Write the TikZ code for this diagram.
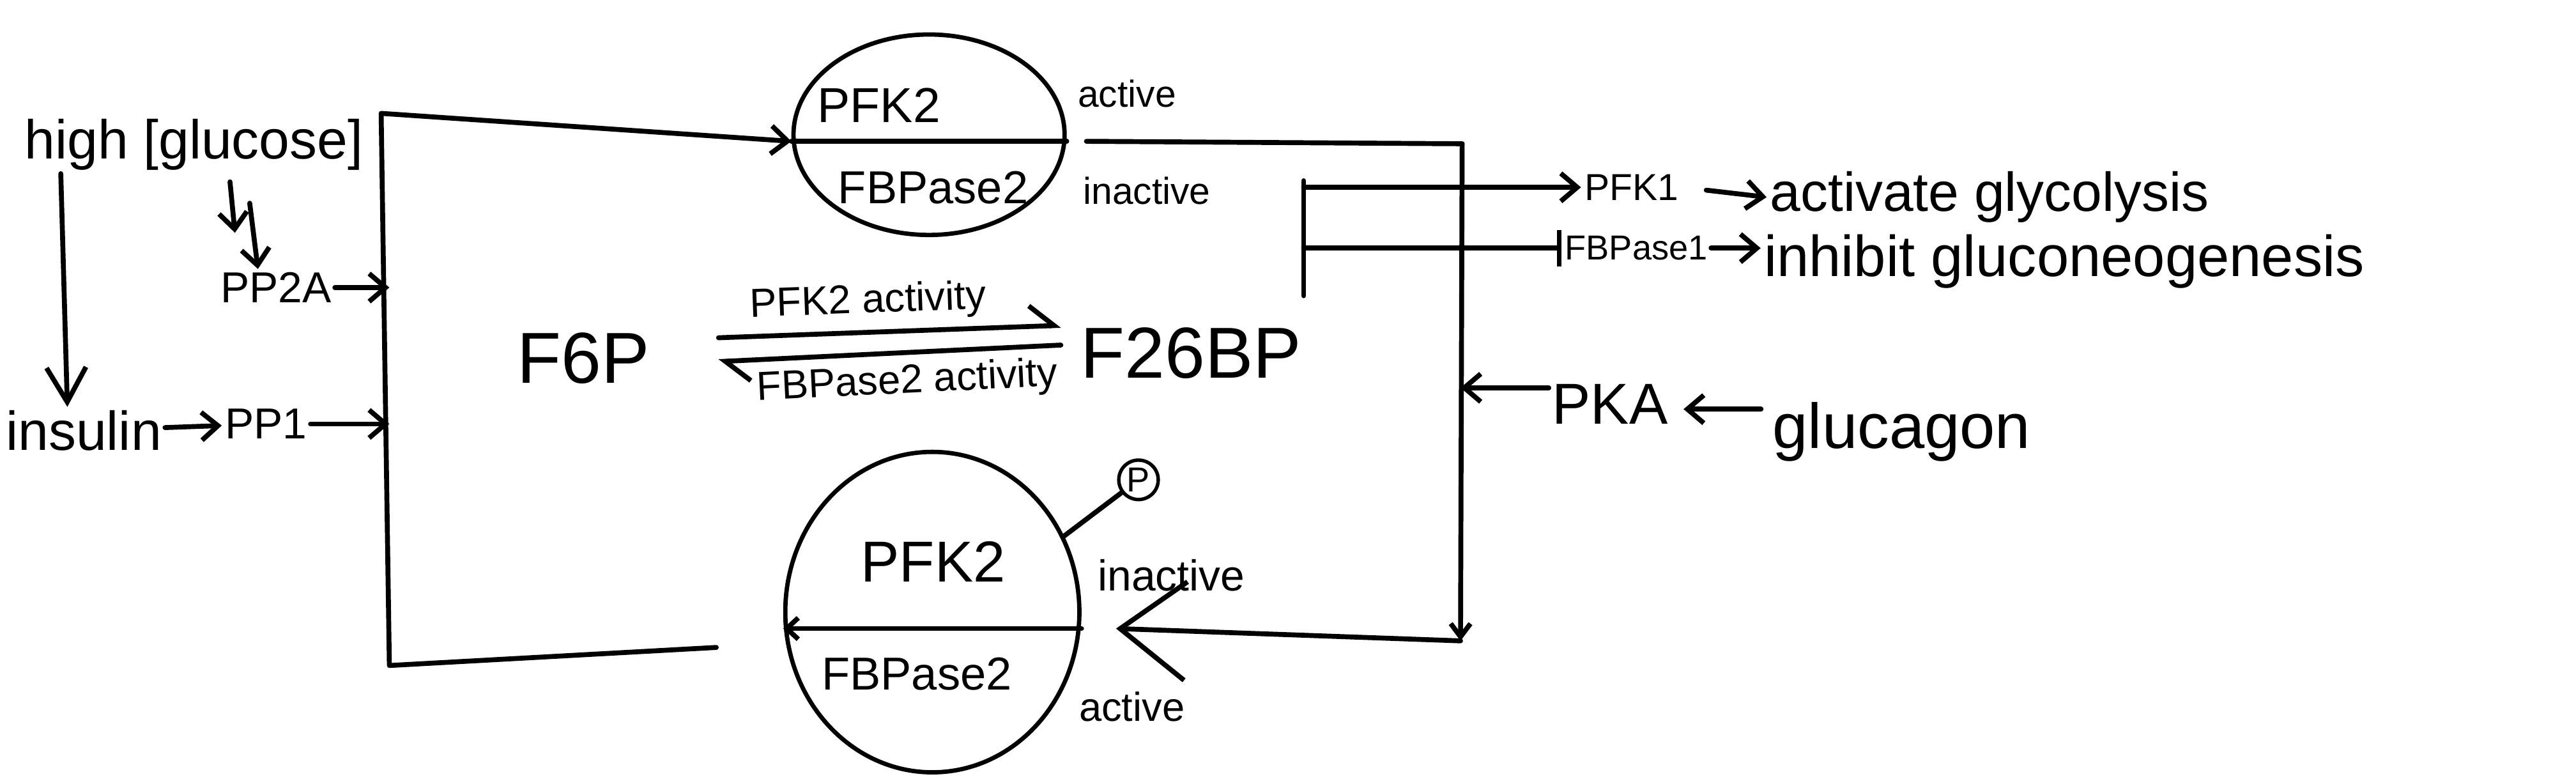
\documentclass[tikz,border=0pt]{standalone}
\usepackage{fontspec}
\setmainfont{Liberation Sans}
\usetikzlibrary{arrows.meta,shapes.geometric}
\def\fsz#1{\fontsize{#1}{#1}\selectfont}
\tikzset{
	hand/.style={line width=1.7pt, line cap=round, line join=round},
	harr/.style={hand, -{Straight Barb[length=0.2cm,width=0.34cm]}},
	enz/.style={draw, ellipse, line width=1.5pt, inner sep=0pt},
	lbl/.style={inner sep=1pt},
}

\begin{document}
\begin{tikzpicture}
			%%%%% START %%%%%
			\useasboundingbox (0, 0) rectangle (31.36, 9.48);
			
			\coordinate (boxtl) at (4.64, 8.1);
			\coordinate (boxbl) at (4.74, 1.38);
			\coordinate (boxtr) at (17.8, 7.73);
			\coordinate (boxbr) at (17.78, 1.68);
			\coordinate (botgap) at (8.72, 1.6);
			
			\node[lbl] (glucose) at (2.36, 7.72) {\fsz{19}high [glucose]};
			\node[lbl] (pptwoa) at (3.36, 5.98) {\fsz{15}PP2A};
			\node[lbl] (insulin) at (1.02, 4.24) {\fsz{19}insulin};
			\node[lbl] (ppone) at (3.24, 4.32) {\fsz{15}PP1};
			
			\draw[hand, -{Straight Barb[length=0.42cm,width=0.48cm]}] ([xshift=-1.62cm]glucose.south) -- ([xshift=-0.2cm]insulin.north);
			\draw[harr] ([xshift=0.44cm,yshift=-0.1cm]glucose.south) -- ([xshift=-0.5cm,yshift=0.44cm]pptwoa.north);
			\draw[harr] ([xshift=0.68cm,yshift=-0.36cm]glucose.south) -- ([xshift=-0.22cm]pptwoa.north);
			\draw[harr] (pptwoa.east) -- (pptwoa.east -| boxbl);
			\draw[harr] (insulin) -- (ppone);
			\draw[harr] (ppone.east) -- (ppone.east -| boxbl);
			
			% PFK2 / FBPase2, top and bottom
			\node[enz, minimum width=3.3cm, minimum height=2.44cm] (pfkon) at (11.31, 7.84) {};
			\node[lbl] (pfkona) at (10.7, 8.2) {\fsz{17}PFK2};
			\node[lbl] (pfkonb) at (11.36, 7.2) {\fsz{16}FBPase2};
			\node[lbl] (onact) at (13.72, 8.34) {\fsz{13}active};
			\node[lbl] (oninact) at (13.96, 7.16) {\fsz{13}inactive};
			\draw[hand] ([yshift=-0.08cm]pfkon.west) -- ([yshift=-0.08cm]pfkon.east);
			
			\node[enz, minimum width=3.58cm, minimum height=3.9cm] (pfkoff) at (11.35, 2.03) {};
			\node[lbl] (pfkoffa) at (11.36, 2.64) {\fsz{20}PFK2};
			\node[lbl] (pfkoffb) at (11.16, 1.28) {\fsz{16}FBPase2};
			\node[lbl] (offinact) at (14.26, 2.48) {\fsz{15}inactive};
			\node[lbl] (offact) at (13.78, 0.88) {\fsz{14}active};
			\node[draw, circle, line width=1.2pt, inner sep=0pt, minimum size=0.48cm] (phos) at (13.86, 3.64) {\fsz{12}P};
			\draw[hand] (pfkoff.30) -- (phos);
			\draw[hand, -{Straight Barb[length=0.14cm,width=0.26cm]}] ([yshift=-0.2cm]pfkoff.east) -- ([yshift=-0.2cm]pfkoff.west);
			
			% the cycle round the box
			\draw[harr] (botgap) -- (boxbl) -- (boxtl) -- ([yshift=-0.08cm]pfkon.west);
			\draw[hand] ([xshift=0.24cm,yshift=-0.08cm]pfkon.east) -- (boxtr);
			\draw[hand, -{Straight Barb[length=0.16cm,width=0.24cm]}] (boxtr) -- (boxbr);
			\draw[hand, -{Straight Barb[length=0.8cm,width=1.2cm]}] (boxbr) -- ([xshift=0.42cm,yshift=-0.2cm]pfkoff.east);
			
			% F6P <-> F26BP
			\node[lbl] (f6p) at (7.1, 5.12) {\fsz{25}F6P};
			\node[lbl] (f26bp) at (14.5, 5.18) {\fsz{25}F26BP};
			\draw[hand, -{Straight Barb[left,length=0.3cm,width=0.5cm]}, shorten <=0.8cm] ([yshift=0.22cm]f6p.east) -- ([yshift=0.34cm,xshift=-0.2cm]f26bp.west)
				node[pos=0.53, above=2pt, sloped, lbl] (fwdlbl) {\fsz{14}PFK2 activity};
			\draw[hand, -{Straight Barb[left,length=0.3cm,width=0.5cm]}, shorten >=0.8cm] ([yshift=0.1cm,xshift=-0.2cm]f26bp.west) -- ([yshift=-0.08cm]f6p.east)
				node[pos=0.38, below=2pt, sloped, lbl] (revlbl) {\fsz{14}FBPase2 activity};
			
			% targets of F26BP
			\coordinate (brtop) at (15.87, 7.28);
			\coordinate (brbot) at (15.87, 5.88);
			\node[lbl] (pfkone) at (19.86, 7.2) {\fsz{13}PFK1};
			\node[lbl] (fbpone) at (19.92, 6.46) {\fsz{12}FBPase1};
			\node[lbl] (glyco) at (24.22, 7.08) {\fsz{19}activate glycolysis};
			\node[lbl] (gneo) at (25.13, 6.3) {\fsz{20}inhibit gluconeogenesis};
			\draw[hand] (brtop) -- (brbot);
			\draw[harr] (brtop |- pfkone) -- (pfkone);
			\draw[hand, -{Bar[width=0.44cm]}] (brtop |- fbpone) -- (fbpone);
			\draw[harr, shorten <=0.3cm] (pfkone.east) -- (glyco.west);
			\draw[harr] (fbpone.east) -- (fbpone.east -| gneo.west);
			
			% glucagon side
			\node[lbl] (pka) at (19.6, 4.56) {\fsz{20}PKA};
			\node[lbl] (glucagon) at (23.15, 4.22) {\fsz{22}glucagon};
			\draw[harr] ([yshift=0.2cm]pka.west) -- ([yshift=0.2cm]pka.west -| boxbr);
			\draw[harr, shorten <=0.1cm, shorten >=0.15cm] ([yshift=0.28cm]glucagon.west) -- ([yshift=-0.06cm]pka.east);
			
			%%%%% END %%%%%
		\end{tikzpicture}
\end{document}
